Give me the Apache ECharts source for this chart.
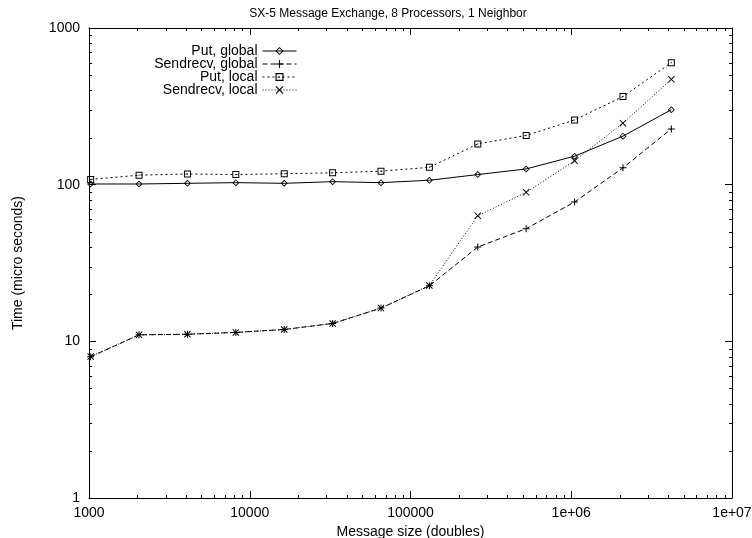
<!DOCTYPE html>
<html>
<head>
<meta charset="utf-8">
<script src="https://cdn.jsdelivr.net/npm/echarts@6/dist/echarts.min.js"></script>
<style>
  html, body { margin: 0; padding: 0; background: #fff; }
  #chart { width: 752px; height: 538px; }
</style>
</head>
<body>
<div id="chart"></div>
<script>
// message sizes (doubles), 2^10 .. 2^22
const sizes = [1024, 2048, 4096, 8192, 16384, 32768, 65536, 131072, 262144, 524288, 1048576, 2097152, 4194304]

const putGlobal = [101, 101, 102, 103, 102, 104.5, 103, 106.7, 116, 126, 152, 204, 301]
const sendrecvGlobal = [7.98, 11.0, 11.1, 11.4, 11.9, 13.0, 16.3, 22.6, 40, 52.4, 77.5, 128, 227]
const putLocal = [108, 115, 117, 116, 117.5, 119, 122, 129, 182, 206, 259, 365, 601]
const sendrecvLocal = [8.0, 11.0, 11.1, 11.4, 11.9, 13.0, 16.3, 22.7, 63.4, 89.3, 142, 247, 470]

const seriesNames = ['Put, global', 'Sendrecv, global', 'Put, local', 'Sendrecv, local']
const xTickLabels = ['1000', '10000', '100000', '1e+06', '1e+07']
const yTickLabels = ['1', '10', '100', '1000']
const xMinorTicks = [2e3, 3e3, 4e3, 5e3, 6e3, 7e3, 8e3, 9e3, 2e4, 3e4, 4e4, 5e4, 6e4, 7e4, 8e4, 9e4,
  2e5, 3e5, 4e5, 5e5, 6e5, 7e5, 8e5, 9e5, 2e6, 3e6, 4e6, 5e6, 6e6, 7e6, 8e6, 9e6]
const yMinorTicks = [2, 3, 4, 5, 6, 7, 8, 9, 20, 30, 40, 50, 60, 70, 80, 90, 200, 300, 400, 500, 600, 700, 800, 900]

const FONT = 'Liberation Sans'
const txt = { color: '#000', fontFamily: FONT, fontSize: 14 }

const symDiamond = 'path://M3.5,0L7,3.5L3.5,7L0,3.5ZM3.5,1.2L1.2,3.5L3.5,5.8L5.8,3.5Z'
const symPlus = 'path://M3,0H4V7H3ZM0,3H7V4H0Z'
const symBox = 'path://M0,0H7V7H0ZM1,1V6H6V1ZM3,3H4V4H3Z'
const symCross = 'path://M0,0.7L0.7,0L7,6.3L6.3,7ZM6.3,0L7,0.7L0.7,7L0,6.3Z'

function pairs(vals) {
  return sizes.map((s, i) => [s, vals[i]])
}

function lineSeries(name, vals, symbol, size, dash) {
  return {
    name: name,
    type: 'line',
    data: pairs(vals),
    symbol: symbol,
    symbolSize: size,
    showAllSymbol: true,
    itemStyle: { color: '#000' },
    lineStyle: { color: '#000', width: 1, type: dash },
    emphasis: { disabled: true },
    animation: false,
    z: 3
  }
}

// minor ticks (2..9 of each decade) drawn inward on both sides of the frame
function minorTickSeries(values, isX) {
  return {
    type: 'custom',
    silent: true,
    animation: false,
    data: values.map(v => [v]),
    renderItem: function (params, api) {
      const cs = params.coordSys
      const v = api.value(0)
      const len = 3
      const style = { stroke: '#000', lineWidth: 1 }
      if (isX) {
        const x = Math.round(api.coord([v, 1])[0]) + 0.5
        return {
          type: 'group',
          children: [
            { type: 'line', shape: { x1: x, y1: cs.y + cs.height, x2: x, y2: cs.y + cs.height - len }, style: style },
            { type: 'line', shape: { x1: x, y1: cs.y, x2: x, y2: cs.y + len }, style: style }
          ]
        }
      }
      const y = Math.round(api.coord([1000, v])[1]) + 0.5
      return {
        type: 'group',
        children: [
          { type: 'line', shape: { x1: cs.x, y1: y, x2: cs.x + len, y2: y }, style: style },
          { type: 'line', shape: { x1: cs.x + cs.width, y1: y, x2: cs.x + cs.width - len, y2: y }, style: style }
        ]
      }
    }
  }
}

const axisLine = { show: true, lineStyle: { color: '#000', width: 1 } }
const majorTick = { show: true, inside: true, length: 7, lineStyle: { color: '#000' } }

const chart = echarts.init(document.getElementById('chart'), null, { renderer: 'canvas' })

const legendTops = [44, 57, 70, 83]

chart.setOption({
  backgroundColor: '#fff',
  animation: false,
  title: {
    text: 'SX-5 Message Exchange, 8 Processors, 1 Neighbor',
    left: 388,
    textAlign: 'center',
    top: 8,
    padding: 0,
    textStyle: { color: '#000', fontFamily: FONT, fontSize: 12, fontWeight: 'normal' }
  },
  legend: seriesNames.map((n, i) => ({
    data: [n],
    orient: 'vertical',
    align: 'right',
    right: 455,
    top: legendTops[i],
    padding: 0,
    itemWidth: 34,
    itemHeight: 10,
    selectedMode: false,
    lineStyle: { width: 1 },
    textStyle: txt
  })),
  grid: { left: 89, right: 20, top: 28, bottom: 40, containLabel: false, outerBoundsMode: 'none' },
  xAxis: [
    {
      type: 'log',
      logBase: 10,
      min: 1000,
      max: 1e7,
      position: 'bottom',
      axisLine: axisLine,
      axisTick: majorTick,
      splitLine: { show: false },
      axisLabel: Object.assign({ margin: 8, formatter: v => xTickLabels[Math.round(Math.log10(v)) - 3] }, txt),
      name: 'Message size (doubles)',
      nameLocation: 'middle',
      nameGap: 21,
      nameTextStyle: txt
    },
    {
      type: 'log',
      logBase: 10,
      min: 1000,
      max: 1e7,
      position: 'top',
      axisLine: axisLine,
      axisTick: majorTick,
      splitLine: { show: false },
      axisLabel: { show: false }
    }
  ],
  yAxis: [
    {
      type: 'log',
      logBase: 10,
      min: 1,
      max: 1000,
      position: 'left',
      axisLine: axisLine,
      axisTick: majorTick,
      splitLine: { show: false },
      axisLabel: Object.assign({ margin: 9, formatter: v => yTickLabels[Math.round(Math.log10(v))] }, txt),
      name: 'Time (micro seconds)',
      nameLocation: 'middle',
      nameGap: 64,
      nameTextStyle: txt
    },
    {
      type: 'log',
      logBase: 10,
      min: 1,
      max: 1000,
      position: 'right',
      axisLine: axisLine,
      axisTick: majorTick,
      splitLine: { show: false },
      axisLabel: { show: false }
    }
  ],
  series: [
    lineSeries(seriesNames[0], putGlobal, symDiamond, 7, 'solid'),
    lineSeries(seriesNames[1], sendrecvGlobal, symPlus, 7, [5, 3]),
    lineSeries(seriesNames[2], putLocal, symBox, 7, [2, 3]),
    lineSeries(seriesNames[3], sendrecvLocal, symCross, 7, [1, 2]),
    minorTickSeries(xMinorTicks, true),
    minorTickSeries(yMinorTicks, false)
  ]
})
</script>
</body>
</html>
